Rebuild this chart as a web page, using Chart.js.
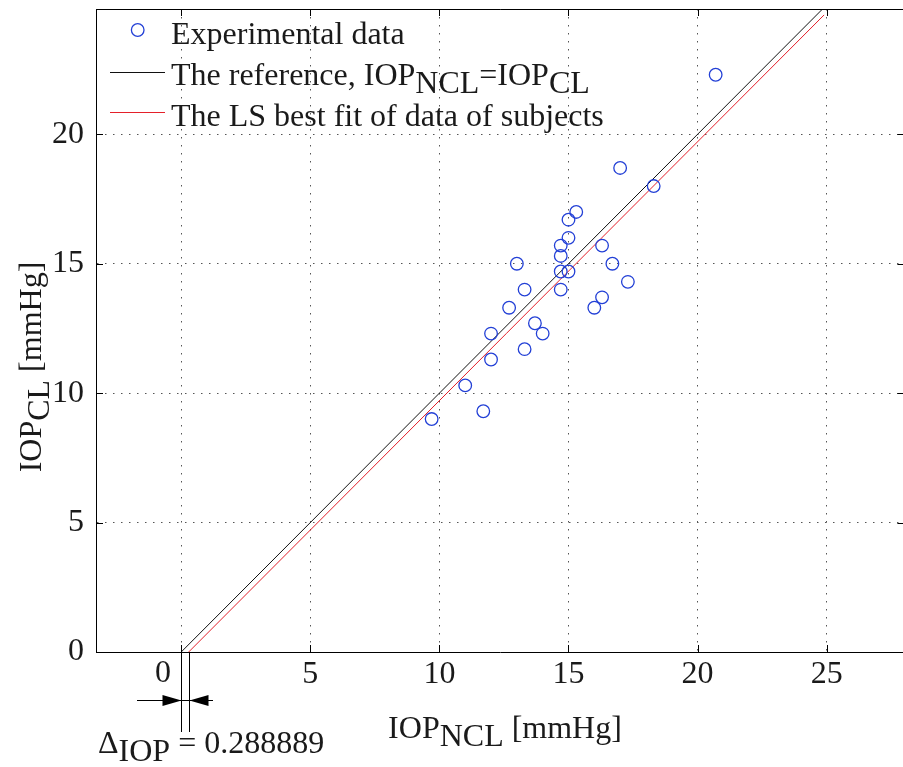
<!DOCTYPE html>
<html><head><meta charset="utf-8">
<script src="https://cdn.jsdelivr.net/npm/chart.js@4/dist/chart.umd.min.js"></script>
<style>
html,body{margin:0;padding:0;background:#fff;overflow:hidden;width:903px;height:767px}
#wrap{position:absolute;left:0;top:0;width:912px;height:767px}
</style>
</head><body><div id="wrap"><canvas id="c" width="912" height="767"></canvas></div>
<script>
// ---- data ----
const xTicks = [0, 5, 10, 15, 20, 25];
const yTicks = [0, 5, 10, 15, 20];
const iopNCL = [9.7, 11.0, 11.7, 12.0, 12.0, 12.7, 13.0, 13.3, 13.3, 13.7, 14.0, 14.7, 14.7, 14.7, 14.7, 15.0, 15.0, 15.0, 15.3, 16.0, 16.3, 16.3, 16.7, 17.3, 17.0, 18.3, 20.7];
const iopCL  = [9.0, 10.3, 9.3, 11.3, 12.3, 13.3, 15.0, 14.0, 11.7, 12.7, 12.3, 14.0, 14.7, 15.3, 15.7, 14.7, 16.0, 16.7, 17.0, 13.3, 13.7, 15.7, 15.0, 14.3, 18.7, 18.0, 22.3];
const refX = [0, 24.9];
const refY = [0, 24.9];
const fitX = [0.288889, 24.9];
const fitY = [0, 24.611111];
const deltaIOP = 0.288889;
const legendLabels = ['Experimental data', 'The reference, ', 'The LS best fit of data of subjects'];

const FONT = '"Liberation Serif","Times New Roman",serif';
const TXT = '#1a1a1a';

const pts = iopNCL.map((v, i) => ({x: v, y: iopCL[i]}));
const ref = refX.map((v, i) => ({x: v, y: refY[i]}));
const fit = fitX.map((v, i) => ({x: v, y: fitY[i]}));

function rich(ctx, parts, x, y, align, size) {
  ctx.font = size + 'px ' + FONT;
  ctx.textAlign = 'left';
  ctx.textBaseline = 'alphabetic';
  let w = 0;
  parts.forEach(p => { w += ctx.measureText(p[0]).width; });
  let cx = align === 'center' ? x - w / 2 : x;
  parts.forEach(p => {
    ctx.fillText(p[0], cx, y + (p[1] ? 8 : 0));
    cx += ctx.measureText(p[0]).width;
  });
}
function seg(ctx, x1, y1, x2, y2) { ctx.beginPath(); ctx.moveTo(x1, y1); ctx.lineTo(x2, y2); ctx.stroke(); }

const deco = {
  id: 'deco',
  afterDraw(chart) {
    const {ctx, chartArea: a, scales: {x, y}} = chart;
    ctx.save();
    ctx.strokeStyle = '#000'; ctx.lineWidth = 1;
    // top and right border
    seg(ctx, a.left, Math.round(a.top) + 0.5, a.right, Math.round(a.top) + 0.5);
    seg(ctx, Math.round(a.right) - 0.5, a.top, Math.round(a.right) - 0.5, a.bottom);
    // inward ticks
    xTicks.forEach(v => {
      const px = Math.round(x.getPixelForValue(v)) + 0.5;
      seg(ctx, px, a.bottom, px, a.bottom - 7);
      seg(ctx, px, a.top, px, a.top + 7);
    });
    yTicks.forEach(v => {
      const py = Math.round(y.getPixelForValue(v)) + 0.5;
      seg(ctx, a.left, py, a.left + 7, py);
      seg(ctx, a.right, py, a.right - 7, py);
    });
    // "0" tick label (shifted by annotation)
    ctx.fillStyle = TXT;
    ctx.font = '32px ' + FONT; ctx.textAlign = 'center'; ctx.textBaseline = 'middle';
    ctx.fillText('0', 163, 674);

    // legend
    ctx.beginPath(); ctx.strokeStyle = '#2340d6'; ctx.lineWidth = 1.3;
    ctx.arc(137.7, 30, 6.3, 0, Math.PI * 2); ctx.stroke();
    ctx.strokeStyle = '#111'; ctx.lineWidth = 1; seg(ctx, 110, 72.5, 165, 72.5);
    ctx.strokeStyle = '#e4202a'; seg(ctx, 110, 112.5, 165, 112.5);
    ctx.fillStyle = TXT;
    rich(ctx, [[legendLabels[0]]], 171, 44, 'left', 32);
    rich(ctx, [[legendLabels[1] + 'IOP'], ['NCL', 1], ['=IOP'], ['CL', 1]], 171, 85, 'left', 32);
    rich(ctx, [[legendLabels[2]]], 171, 126, 'left', 32);

    // axis titles
    rich(ctx, [['IOP'], ['NCL', 1], [' [mmHg]']], 505, 738, 'center', 32);
    ctx.save();
    ctx.translate(41, 367); ctx.rotate(-Math.PI / 2);
    rich(ctx, [['IOP'], ['CL', 1], [' [mmHg]']], 0, 0, 'center', 32);
    ctx.restore();

    // delta annotation
    const x0 = Math.round(x.getPixelForValue(0)) + 0.5;
    const x1 = Math.round(x.getPixelForValue(deltaIOP)) + 0.5;
    ctx.strokeStyle = '#000'; ctx.lineWidth = 1;
    seg(ctx, x0, a.bottom, x0, 732);
    seg(ctx, x1, a.bottom, x1, 732);
    const ay = 700.5;
    seg(ctx, 137, ay, x0, ay);
    seg(ctx, x0, ay, x1, ay);
    seg(ctx, x1, ay, 213, ay);
    ctx.fillStyle = '#000';
    ctx.beginPath(); ctx.moveTo(x0, ay); ctx.lineTo(x0 - 19, ay - 5.5); ctx.lineTo(x0 - 19, ay + 5.5); ctx.closePath(); ctx.fill();
    ctx.beginPath(); ctx.moveTo(x1, ay); ctx.lineTo(x1 + 19, ay - 5.5); ctx.lineTo(x1 + 19, ay + 5.5); ctx.closePath(); ctx.fill();
    ctx.fillStyle = TXT;
    rich(ctx, [['\u0394'], ['IOP', 1], [' = ' + deltaIOP.toString()]], 98, 753, 'left', 32);
    ctx.restore();
  }
};

new Chart(document.getElementById('c'), {
  type: 'scatter',
  data: {datasets: [
    {label: legendLabels[0], data: pts, showLine: false, pointStyle: 'circle', pointRadius: 6.3, pointHoverRadius: 6.3,
     pointBorderColor: '#2340d6', pointBackgroundColor: 'rgba(0,0,0,0)', pointBorderWidth: 1.3},
    {label: 'IOP_NCL=IOP_CL', data: ref, showLine: true, borderColor: '#111', borderWidth: 1, pointRadius: 0, fill: false},
    {label: legendLabels[2], data: fit, showLine: true, borderColor: '#e4202a', borderWidth: 1, pointRadius: 0, fill: false}
  ]},
  options: {
    responsive: false, animation: false, events: [],
    layout: {padding: {left: 0, top: 9, right: 5, bottom: 0}},
    plugins: {legend: {display: false}, tooltip: {enabled: false}},
    scales: {
      x: {type: 'linear', min: -3.30, max: 28.01,
        afterBuildTicks: s => { s.ticks = xTicks.map(v => ({value: v})); },
        afterFit: s => { s.height = 115; s.paddingLeft = 0; s.paddingRight = 0; s.paddingTop = 0; s.paddingBottom = 0; },
        grid: {color: '#555', lineWidth: 1, drawTicks: false},
        border: {display: true, color: '#000', width: 1, dash: [1.5, 6.5]},
        ticks: {font: {family: FONT, size: 32}, color: TXT, padding: 3, maxRotation: 0, autoSkip: false,
                callback: v => v === 0 ? '' : String(v)}},
      y: {type: 'linear', min: 0, max: 24.84,
        afterBuildTicks: s => { s.ticks = yTicks.map(v => ({value: v})); },
        afterFit: s => { s.width = 96; s.paddingTop = 0; s.paddingBottom = 0; s.paddingLeft = 0; s.paddingRight = 0; },
        grid: {color: '#555', lineWidth: 1, drawTicks: false},
        border: {display: true, color: '#000', width: 1, dash: [1.5, 6.5]},
        ticks: {font: {family: FONT, size: 32}, color: TXT, padding: 12, autoSkip: false,
                callback: v => String(v)}}
    }
  },
  plugins: [deco]
});
</script>
</body></html>
